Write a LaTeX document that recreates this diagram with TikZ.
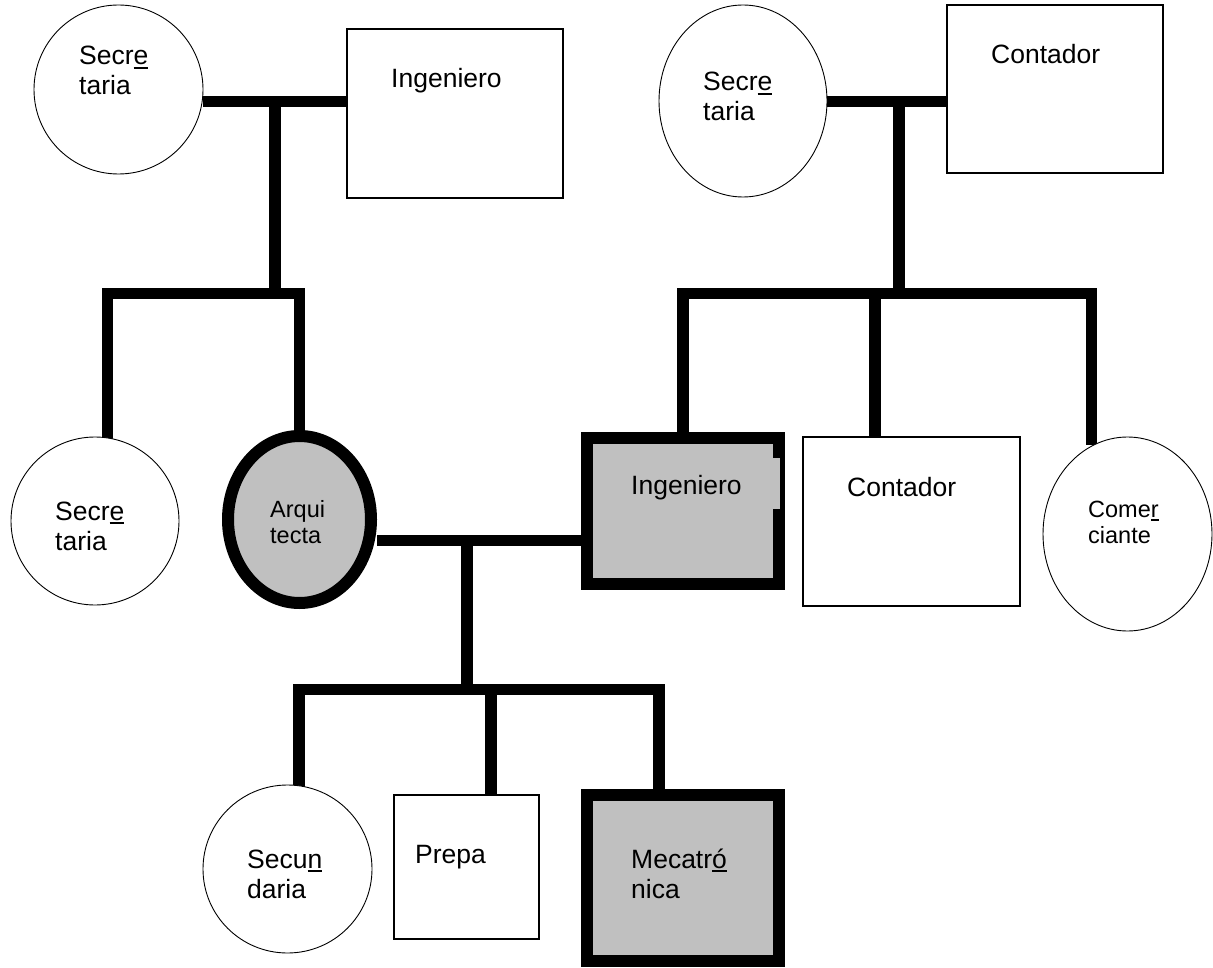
\documentclass[tikz,border=0pt]{standalone}
\usepackage{fontspec}
\setmainfont{Liberation Sans}
\usetikzlibrary{shapes.geometric,backgrounds}
\definecolor{fillgray}{RGB}{192,192,192}
\newcommand\ulc[1]{\setbox0\hbox{#1}\rlap{\rule[-4pt]{\wd0}{1.8pt}}#1}
\newcommand\twolines[2]{\vtop{\hbox{#1}\hbox{#2}}}
\tikzset{
  circ/.style={ellipse, draw, line width=0.9pt, inner sep=0pt, fill=white},
  box/.style={rectangle, draw, line width=1.2pt, inner sep=0pt, fill=white},
  boldbox/.style={rectangle, draw, line width=12pt, fill=fillgray, inner sep=0pt},
  boldcirc/.style={ellipse, draw, line width=12pt, fill=fillgray, inner sep=0pt},
  link/.style={line width=11.5pt, line join=miter},
  lbl/.style={anchor=base west, inner sep=0pt, font=\fontsize{26.5}{30}\selectfont},
  slbl/.style={anchor=base west, inner sep=0pt, font=\fontsize{23.5}{26}\selectfont},
}
\begin{document}
\begin{tikzpicture}[x=1pt, y=-1pt]
\useasboundingbox (0,0) rectangle (1213,968);

% shapes
\node[circ, minimum width=169pt, minimum height=169pt] (sec1) at (118.5,89.5) {};
\node[box, minimum width=216pt, minimum height=169pt] (ing1) at (455,113.5) {};
\node[circ, minimum width=168pt, minimum height=192pt] (sec2) at (743,101) {};
\node[box, minimum width=216pt, minimum height=168pt] (con1) at (1055,89) {};
\node[circ, minimum width=168pt, minimum height=168pt] (sec3) at (95,521) {};
\node[boldcirc, minimum width=143pt, minimum height=167pt] (arq) at (299.5,519.5) {};
\node[boldbox, minimum width=192pt, minimum height=146pt] (ing2) at (683,511) {};
\node[box, minimum width=217pt, minimum height=169pt] (con2) at (911.5,521.5) {};
\node[circ, minimum width=169pt, minimum height=194pt] (com) at (1127.5,534) {};
\node[circ, minimum width=169pt, minimum height=168pt] (secu) at (287.5,869) {};
\node[box, minimum width=145pt, minimum height=144pt] (prepa) at (466.5,867) {};
\node[boldbox, minimum width=192pt, minimum height=166pt] (meca) at (683,878) {};
% small notch on the right border of the grey Ingeniero box
\fill[fillgray] (773,458) rectangle (780,509);

% labels
\node[lbl] (t1) at (79,65) {\twolines{Secr\ulc{e}}{taria}};
\node[lbl] (t2) at (391,88) {Ingeniero};
\node[lbl] (t3) at (703,91) {\twolines{Secr\ulc{e}}{taria}};
\node[lbl] (t4) at (991,64) {Contador};
\node[lbl] (t5) at (55,520) {\twolines{Secr\ulc{e}}{taria}};
\node[slbl] (t6) at (270,517) {\twolines{Arqui}{tecta}};
\node[lbl] (t7) at (631,494) {Ingeniero};
\node[lbl] (t8) at (847,496) {Contador};
\node[slbl] (t9) at (1088,517) {\twolines{Come\ulc{r}}{ciante}};
\node[lbl] (t10) at (247,868) {\twolines{Secu\ulc{n}}{daria}};
\node[lbl] (t11) at (415,863) {Prepa};
\node[lbl] (t12) at (631,868) {\twolines{Mecatr\ulc{ó}}{nica}};

% connectors
\coordinate (m1) at (275,101.5);
\coordinate (b1) at (275,293.5);
\coordinate (m2) at (899,101.5);
\coordinate (b2) at (899,293.5);
\coordinate (m3) at (467,540.5);
\coordinate (b3) at (467,689.5);
\coordinate (k1) at (107.5,442);
\coordinate (k2) at (875,443);
\coordinate (k3) at (1091.5,445);
\coordinate (k4) at (299,788);
\coordinate (k5) at (491,796);
\coordinate (k6) at (659,792);

\begin{scope}[on background layer]
\draw[link] (m1 -| sec1.east) -- (m1 -| ing1.west);
\draw[link] (m1) -- (b1);
\draw[link] (k1) -- (k1 |- b1) -- (arq.north |- b1) -- (arq.north);

\draw[link] (m2 -| sec2.east) -- (m2 -| con1.west);
\draw[link] (m2) -- (b2);
\draw[link] (ing2.north) -- (ing2.north |- b2) -- (k3 |- b2) -- (k3);
\draw[link] (k2 |- b2) -- (k2);

\draw[link] (m3 -| arq.east) -- (m3 -| ing2.west);
\draw[link] (m3) -- (b3);
\draw[link] (k4) -- (k4 |- b3) -- (k6 |- b3) -- (k6);
\draw[link] (k5 |- b3) -- (k5);
\end{scope}
\end{tikzpicture}
\end{document}
